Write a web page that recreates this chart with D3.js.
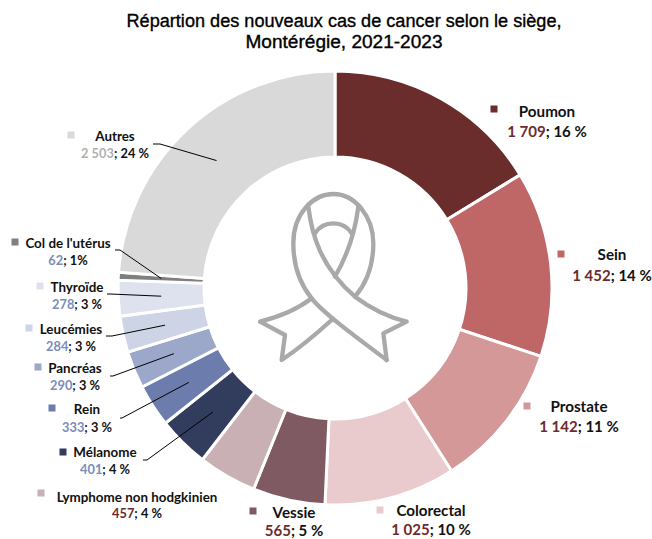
<!DOCTYPE html>
<html><head><meta charset="utf-8">
<script src="https://cdn.jsdelivr.net/npm/d3@7/dist/d3.min.js"></script>
<style>html,body{margin:0;background:#fff}svg{display:block}</style></head>
<body><svg id="c" width="652" height="539"></svg>
<script>
const titleLines = ["Répartion des nouveaux cas de cancer selon le siège,", "Montérégie, 2021-2023"];
const categories = ["Poumon","Sein","Prostate","Colorectal","Vessie","Lymphome non hodgkinien","Mélanome","Rein","Pancréas","Leucémies","Thyroïde","Col de l'utérus","Autres"];
const values = [1709,1452,1142,1025,565,457,401,333,290,284,278,62,2503];
const valueLabels = ["1 709","1 452","1 142","1 025","565","457","401","333","290","284","278","62","2 503"];
const percentLabels = ["; 16 %","; 14 %","; 11 %","; 10 %","; 5 %","; 4 %","; 4 %","; 3 %","; 3 %","; 3 %","; 3 %","; 1%","; 24 %"];
const colors = ["#6b2c2c","#bf6666","#d49898","#eacbcd","#805a63","#c8b0b4","#323c5c","#6c7dad","#9ca8ca","#cdd4e6","#dde2ee","#7f7f7f","#d9d9d9"];
const valueColors = ["#6b2c2c","#6b2c2c","#6b2c2c","#6b2c2c","#6b2c2c","#6b2c2c","#7a8cb8","#7a8cb8","#7a8cb8","#7a8cb8","#7a8cb8","#7a8cb8","#b0b0b0"];
// label layout: [marker x, marker y, text centre x, name y, value y]
const labelLayout = [[494,109,547,112,132],[561,254,612,255,276],[527,406,579,407,427],[380,510,431,511,530],[253,511,294,513,531],[41,493,137,497,513],[63,452,105,452,469],[52,408,87,409,427],[38,367,75,368,385],[29,328,71,329,346],[40,286,77,287,304],[15,242,68,243,260],[71,135,115,136,153]];
// leader start [x, y, elbow x] by category index
const leaders = {6:[143,460,147],7:[120,418,122],8:[110,376,113],9:[106,336,112],10:[107,294,110],11:[115,250,120],12:[153,144,160]};

const svg = d3.select("#c");
const cx = 335, cy = 288, R = 217, r = 131;
const font = "Lato, 'Open Sans', sans-serif";

svg.selectAll("text.title").data(titleLines).join("text").attr("class","title")
  .attr("x",344).attr("y",(d,i)=>27+i*21).attr("text-anchor","middle")
  .attr("font-family","'Liberation Sans', Arial, sans-serif").attr("font-size",18)
  .attr("textLength",(d,i)=>i?197:435).attr("lengthAdjust","spacingAndGlyphs")
  .attr("fill","#000").attr("stroke","#000").attr("stroke-width",0.35).text(d=>d);

const pie = d3.pie().sort(null).value(d=>d)(values);
const arc = d3.arc().innerRadius(r).outerRadius(R);
const g = svg.append("g").attr("transform",`translate(${cx},${cy})`);
g.selectAll("path").data(pie).join("path").attr("d",arc)
  .attr("fill",(d,i)=>colors[i]).attr("stroke","#fff").attr("stroke-width",3);

// leader lines end at slice centroids
const line = d3.line();
Object.keys(leaders).forEach(k=>{
  const [x,y,ex] = leaders[k], c = arc.centroid(pie[k]);
  svg.append("path").attr("d",line([[x,y],[ex,y],[c[0]+cx,c[1]+cy]]))
    .attr("fill","none").attr("stroke","#000").attr("stroke-width",1);
});

// ribbon icon
const ribbon = svg.append("g").attr("transform","translate(240,170) scale(0.3333)")
  .attr("fill","none").attr("stroke","#a9a9a9").attr("stroke-width",13).attr("stroke-linejoin","round").attr("stroke-linecap","round");
["M440,570 C360,510 250,430 215,385 C170,330 160,270 160,220 C160,130 220,72 280,72 C345,72 400,140 400,220 C400,290 375,345 345,380",
 "M205,110 C215,190 240,290 345,380 C385,410 440,440 500,455 L430,490 L440,570",
 "M355,110 C345,190 320,260 285,320",
 "M275,450 C220,500 170,540 125,570 L135,495 L60,455 C120,440 170,420 215,385",
 "M225,190 C250,150 310,150 335,190"].forEach(d=>ribbon.append("path").attr("d",d));

// labels
const labels = svg.append("g").selectAll("g").data(categories).join("g");
labels.append("rect").attr("x",(d,i)=>labelLayout[i][0]-3.5).attr("y",(d,i)=>labelLayout[i][1]-3.5)
  .attr("width",7).attr("height",7).attr("fill",(d,i)=>colors[i]);
const big = i => i<5;
labels.append("text").attr("x",(d,i)=>labelLayout[i][2]).attr("y",(d,i)=>labelLayout[i][3]+5)
  .attr("text-anchor","middle").attr("font-family",font).attr("font-weight",700)
  .attr("font-size",(d,i)=>big(i)?15.2:13.4).attr("fill","#111").text(d=>d);
const v = labels.append("text").attr("x",(d,i)=>labelLayout[i][2]).attr("y",(d,i)=>labelLayout[i][4]+5)
  .attr("text-anchor","middle").attr("font-family",font).attr("font-weight",700)
  .attr("font-size",(d,i)=>big(i)?15:12.8).attr("fill","#111");
v.append("tspan").attr("fill",(d,i)=>valueColors[i]).text((d,i)=>valueLabels[i]);
v.append("tspan").text((d,i)=>percentLabels[i]);
</script></body></html>
